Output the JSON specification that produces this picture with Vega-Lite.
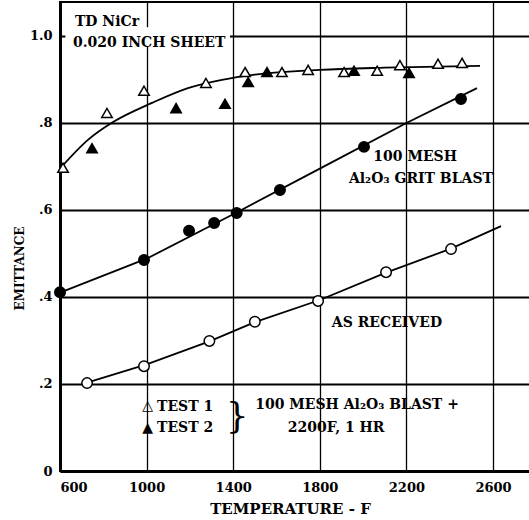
{
  "$schema": "https://vega.github.io/schema/vega-lite/v6.json",
  "width": 472,
  "height": 469,
  "autosize": {"type": "none"},
  "padding": {"left": 60, "top": 2, "right": 0, "bottom": 49},
  "background": "white",
  "config": {
    "view": {"stroke": "black", "strokeWidth": 2},
    "font": "DejaVu Serif",
    "axis": {
      "domainColor": "black",
      "domainWidth": 3,
      "gridColor": "black",
      "gridOpacity": 1,
      "ticks": false,
      "labelFont": "DejaVu Serif",
      "labelFontWeight": "bold",
      "labelFontSize": 13,
      "labelColor": "black",
      "titleFont": "DejaVu Serif",
      "titleFontWeight": "bold",
      "titleColor": "black"
    }
  },
  "datasets": {
    "curves": [
      {"series": "Test", "t": 609, "e": 0.700},
      {"series": "Test", "t": 729, "e": 0.761},
      {"series": "Test", "t": 845, "e": 0.802},
      {"series": "Test", "t": 1025, "e": 0.846},
      {"series": "Test", "t": 1191, "e": 0.880},
      {"series": "Test", "t": 1348, "e": 0.899},
      {"series": "Test", "t": 1500, "e": 0.911},
      {"series": "Test", "t": 1800, "e": 0.922},
      {"series": "Test", "t": 2100, "e": 0.927},
      {"series": "Test", "t": 2540, "e": 0.931}
    ],
    "straight": [
      {"series": "Grit", "t": 600, "e": 0.410},
      {"series": "Grit", "t": 1000, "e": 0.488},
      {"series": "Grit", "t": 1400, "e": 0.590},
      {"series": "Grit", "t": 1800, "e": 0.695},
      {"series": "Grit", "t": 2200, "e": 0.800},
      {"series": "Grit", "t": 2526, "e": 0.880},
      {"series": "Received", "t": 725, "e": 0.203},
      {"series": "Received", "t": 1000, "e": 0.245},
      {"series": "Received", "t": 1290, "e": 0.298},
      {"series": "Received", "t": 1500, "e": 0.342},
      {"series": "Received", "t": 1800, "e": 0.393},
      {"series": "Received", "t": 2100, "e": 0.455},
      {"series": "Received", "t": 2400, "e": 0.510},
      {"series": "Received", "t": 2637, "e": 0.563}
    ],
    "points": [
      {"set": "Test 1", "t": 614, "e": 0.697},
      {"set": "Test 1", "t": 817, "e": 0.823},
      {"set": "Test 1", "t": 988, "e": 0.874},
      {"set": "Test 1", "t": 1274, "e": 0.892},
      {"set": "Test 1", "t": 1455, "e": 0.917},
      {"set": "Test 1", "t": 1625, "e": 0.917},
      {"set": "Test 1", "t": 1746, "e": 0.922},
      {"set": "Test 1", "t": 1912, "e": 0.917},
      {"set": "Test 1", "t": 2065, "e": 0.920},
      {"set": "Test 1", "t": 2170, "e": 0.933},
      {"set": "Test 1", "t": 2346, "e": 0.936},
      {"set": "Test 1", "t": 2457, "e": 0.938},
      {"set": "Test 2", "t": 748, "e": 0.742},
      {"set": "Test 2", "t": 1136, "e": 0.834},
      {"set": "Test 2", "t": 1362, "e": 0.844},
      {"set": "Test 2", "t": 1469, "e": 0.894},
      {"set": "Test 2", "t": 1556, "e": 0.917},
      {"set": "Test 2", "t": 1958, "e": 0.920},
      {"set": "Test 2", "t": 2212, "e": 0.915},
      {"set": "Grit", "t": 600, "e": 0.411},
      {"set": "Grit", "t": 988, "e": 0.485},
      {"set": "Grit", "t": 1196, "e": 0.552},
      {"set": "Grit", "t": 1312, "e": 0.570},
      {"set": "Grit", "t": 1416, "e": 0.593},
      {"set": "Grit", "t": 1616, "e": 0.646},
      {"set": "Grit", "t": 2004, "e": 0.745},
      {"set": "Grit", "t": 2452, "e": 0.855},
      {"set": "Received", "t": 725, "e": 0.202},
      {"set": "Received", "t": 988, "e": 0.241},
      {"set": "Received", "t": 1290, "e": 0.299},
      {"set": "Received", "t": 1500, "e": 0.343},
      {"set": "Received", "t": 1792, "e": 0.391},
      {"set": "Received", "t": 2106, "e": 0.457},
      {"set": "Received", "t": 2406, "e": 0.510}
    ],
    "leftText": [
      {"label": "TD NiCr", "t": 669, "e": 1.032},
      {"label": "0.020 INCH SHEET", "t": 660, "e": 0.984},
      {"label": "△", "t": 980, "e": 0.150},
      {"label": "▲", "t": 980, "e": 0.099},
      {"label": "TEST 1", "t": 1048, "e": 0.147},
      {"label": "TEST 2", "t": 1048, "e": 0.099}
    ],
    "centerText": [
      {"label": "100 MESH", "t": 2240, "e": 0.722},
      {"label": "Al₂O₃ GRIT BLAST", "t": 2267, "e": 0.671},
      {"label": "AS RECEIVED", "t": 2110, "e": 0.340},
      {"label": "100 MESH Al₂O₃ BLAST +", "t": 1972, "e": 0.151},
      {"label": "2200F, 1 HR", "t": 1875, "e": 0.099}
    ],
    "brace": [
      {"label": "}", "t": 1418, "e": 0.124}
    ],
    "box": [
      {"t1": 625, "t2": 1385, "e1": 0.975, "e2": 1.02}
    ]
  },
  "layer": [
    {
      "data": {"name": "box"},
      "mark": {"type": "rect", "fill": "white"},
      "encoding": {
        "x": {"field": "t1", "type": "quantitative", "scale": {"domain": [600, 2780], "nice": false, "zero": false},
          "axis": {"values": [600, 1000, 1400, 1800, 2200, 2600], "format": "d", "title": "TEMPERATURE - F", "titleFontSize": 15, "gridWidth": 1.3, "labelPadding": 10,
            "titleX": 230, "titleAlign": "center", "titleY": 37, "titleBaseline": "middle"}},
        "x2": {"field": "t2"},
        "y": {"field": "e1", "type": "quantitative", "scale": {"domain": [0, 1.078], "nice": false, "zero": false},
          "axis": {"values": [0, 0.2, 0.4, 0.6, 0.8, 1.0], "title": "EMITTANCE", "titleFontSize": 12, "gridWidth": 2, "labelPadding": 8,
            "labelExpr": "datum.value == 0 ? '0' : datum.value >= 0.99 ? '1.0' : '.' + round(datum.value * 10)",
            "titleX": -41, "titleY": 266, "titleBaseline": "middle", "titleAngle": -90}},
        "y2": {"field": "e2"}
      }
    },
    {
      "data": {"name": "curves"},
      "mark": {"type": "line", "color": "black", "strokeWidth": 1.8, "interpolate": "monotone"},
      "encoding": {
        "x": {"field": "t", "type": "quantitative"},
        "y": {"field": "e", "type": "quantitative"},
        "detail": {"field": "series"}
      }
    },
    {
      "data": {"name": "straight"},
      "mark": {"type": "line", "color": "black", "strokeWidth": 1.8, "interpolate": "linear"},
      "encoding": {
        "x": {"field": "t", "type": "quantitative"},
        "y": {"field": "e", "type": "quantitative"},
        "detail": {"field": "series"}
      }
    },
    {
      "data": {"name": "points"},
      "mark": {"type": "point", "filled": false, "stroke": "black", "strokeWidth": 1.5, "opacity": 1},
      "encoding": {
        "x": {"field": "t", "type": "quantitative"},
        "y": {"field": "e", "type": "quantitative"},
        "shape": {"field": "set", "type": "nominal", "legend": null,
          "scale": {"domain": ["Test 1", "Test 2", "Grit", "Received"], "range": ["triangle-up", "triangle-up", "circle", "circle"]}},
        "fill": {"field": "set", "type": "nominal", "legend": null,
          "scale": {"domain": ["Test 1", "Test 2", "Grit", "Received"], "range": ["white", "black", "black", "white"]}},
        "size": {"field": "set", "type": "nominal", "legend": null,
          "scale": {"domain": ["Test 1", "Test 2", "Grit", "Received"], "range": [110, 110, 80, 70]}}
      }
    },
    {
      "data": {"name": "leftText"},
      "mark": {"type": "text", "align": "left", "baseline": "middle", "font": "DejaVu Serif", "fontWeight": "bold", "fontSize": 14, "color": "black"},
      "encoding": {
        "x": {"field": "t", "type": "quantitative"},
        "y": {"field": "e", "type": "quantitative"},
        "text": {"field": "label"}
      }
    },
    {
      "data": {"name": "centerText"},
      "mark": {"type": "text", "align": "center", "baseline": "middle", "font": "DejaVu Serif", "fontWeight": "bold", "fontSize": 14, "color": "black"},
      "encoding": {
        "x": {"field": "t", "type": "quantitative"},
        "y": {"field": "e", "type": "quantitative"},
        "text": {"field": "label"}
      }
    },
    {
      "data": {"name": "brace"},
      "mark": {"type": "text", "align": "center", "baseline": "middle", "font": "DejaVu Serif", "fontSize": 36, "color": "black"},
      "encoding": {
        "x": {"field": "t", "type": "quantitative"},
        "y": {"field": "e", "type": "quantitative"},
        "text": {"field": "label"}
      }
    }
  ]
}
